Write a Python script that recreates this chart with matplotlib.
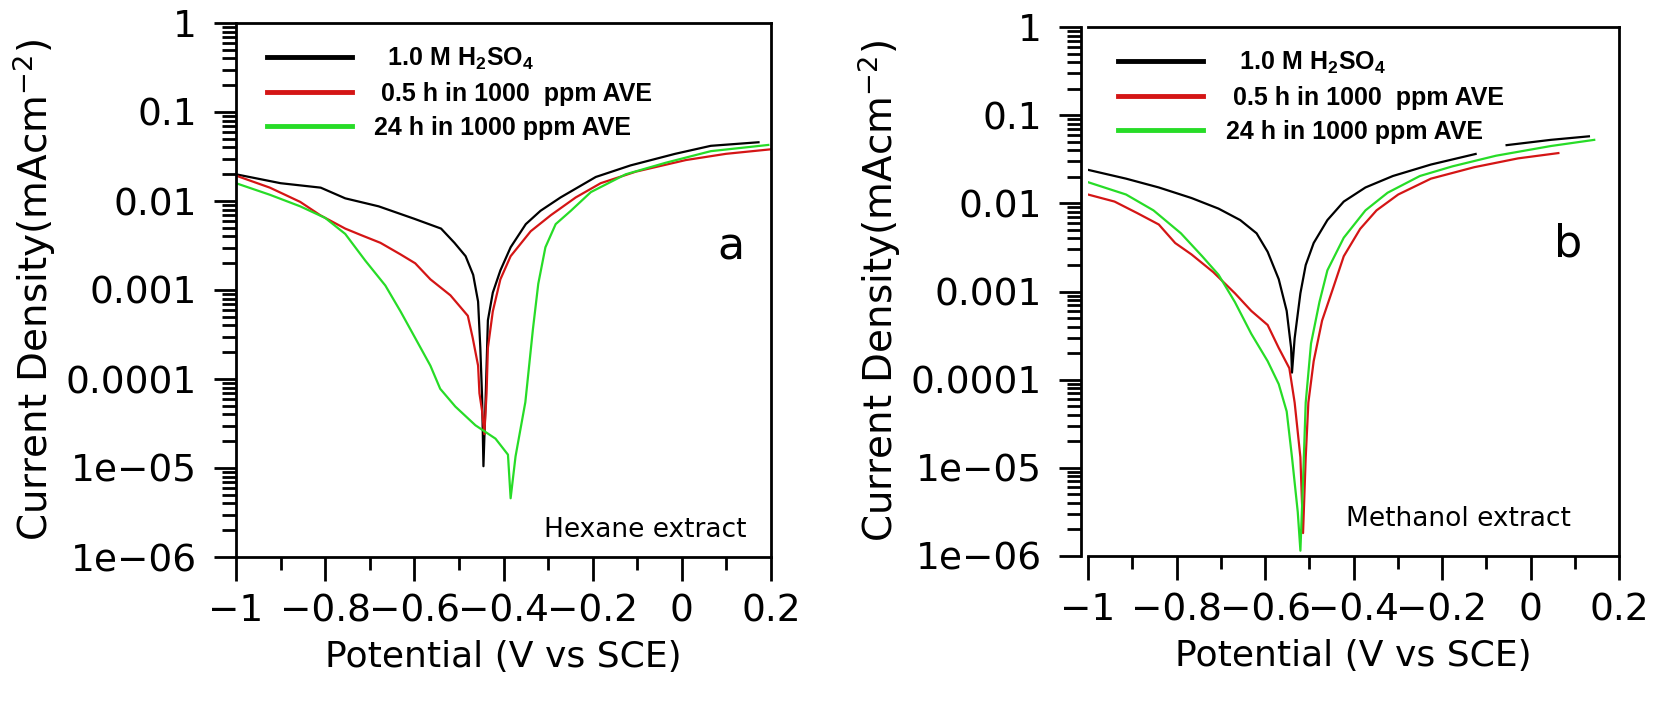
import numpy as np
import matplotlib
matplotlib.use("Agg")
import matplotlib.pyplot as plt
from matplotlib.ticker import FixedLocator, FixedFormatter, LogLocator, MultipleLocator

plt.rcParams['font.family'] = ['DejaVu Sans']
plt.rcParams['mathtext.fontset'] = 'custom'
plt.rcParams['mathtext.rm'] = 'Liberation Sans:bold'
plt.rcParams['mathtext.it'] = 'Liberation Sans:bold'
plt.rcParams['mathtext.bf'] = 'Liberation Sans:bold'

# ---- panel a: hexane extract (potential V vs SCE, log10 current density)
a_blank_v = [-1.0, -0.90, -0.81, -0.755, -0.68, -0.60, -0.54, -0.51, -0.485, -0.468,
             -0.457, -0.452, -0.448, -0.445, -0.44, -0.435, -0.424, -0.407, -0.384,
             -0.35, -0.317, -0.272, -0.193, -0.115, -0.015, 0.065, 0.172]
a_blank_log = [-1.70, -1.80, -1.85, -1.97, -2.06, -2.20, -2.31, -2.47, -2.62, -2.83,
               -3.13, -3.65, -4.21, -4.98, -4.21, -3.34, -3.03, -2.78, -2.52,
               -2.26, -2.11, -1.96, -1.73, -1.60, -1.47, -1.38, -1.34]

a_half_v = [-1.0, -0.924, -0.856, -0.811, -0.755, -0.721, -0.676, -0.631, -0.598, -0.564,
            -0.519, -0.480, -0.469, -0.457, -0.454, -0.448, -0.443, -0.438, -0.435,
            -0.424, -0.407, -0.384, -0.339, -0.294, -0.238, -0.182, -0.103, 0.009,
            0.099, 0.198]
a_half_log = [-1.715, -1.85, -2.01, -2.16, -2.31, -2.38, -2.47, -2.60, -2.70, -2.88,
              -3.06, -3.29, -3.54, -3.85, -4.16, -4.36, -4.62, -4.16, -3.65,
              -3.24, -2.88, -2.62, -2.34, -2.16, -1.96, -1.80, -1.67, -1.54,
              -1.47, -1.42]

a_day_v = [-1.0, -0.924, -0.856, -0.80, -0.755, -0.710, -0.665, -0.631, -0.598, -0.564,
           -0.542, -0.508, -0.463, -0.418, -0.39, -0.384, -0.373, -0.351, -0.334,
           -0.322, -0.306, -0.283, -0.249, -0.204, -0.126, -0.036, 0.065, 0.194]
a_day_log = [-1.80, -1.93, -2.06, -2.19, -2.37, -2.67, -2.95, -3.24, -3.54, -3.85,
             -4.11, -4.31, -4.52, -4.67, -4.85, -5.34, -4.87, -4.26, -3.44,
             -2.93, -2.52, -2.26, -2.11, -1.90, -1.70, -1.57, -1.44, -1.37]

# ---- panel b: methanol extract (nan = short break in the blank curve)
b_blank_v = [-1.0, -0.914, -0.84, -0.766, -0.705, -0.656, -0.619, -0.594, -0.569, -0.551,
             -0.541, -0.539, -0.533, -0.520, -0.508, -0.490, -0.459, -0.422, -0.373,
             -0.311, -0.225, -0.124, -0.09, -0.054, 0.046, 0.132]
b_blank_log = [-1.62, -1.72, -1.82, -1.94, -2.06, -2.19, -2.34, -2.55, -2.86, -3.22,
               -3.64, -3.92, -3.53, -3.02, -2.70, -2.45, -2.19, -1.98, -1.82,
               -1.69, -1.56, -1.44, np.nan, -1.34, -1.28, -1.24]

b_half_v = [-1.0, -0.94, -0.889, -0.84, -0.803, -0.766, -0.717, -0.668, -0.631, -0.594,
            -0.569, -0.545, -0.533, -0.520, -0.514, -0.508, -0.502, -0.490, -0.471,
            -0.446, -0.422, -0.385, -0.348, -0.299, -0.225, -0.127, -0.028, 0.063]
b_half_log = [-1.90, -1.98, -2.11, -2.24, -2.45, -2.58, -2.78, -3.02, -3.22, -3.38,
              -3.64, -3.87, -4.26, -4.88, -5.74, -4.88, -4.26, -3.79, -3.33,
              -2.96, -2.60, -2.29, -2.08, -1.90, -1.72, -1.59, -1.49, -1.43]

b_day_v = [-1.0, -0.914, -0.852, -0.79, -0.742, -0.705, -0.668, -0.631, -0.594, -0.569,
           -0.551, -0.539, -0.526, -0.520, -0.514, -0.508, -0.496, -0.477, -0.459,
           -0.422, -0.373, -0.323, -0.250, -0.176, -0.078, 0.046, 0.144]
b_day_log = [-1.76, -1.90, -2.08, -2.34, -2.60, -2.81, -3.12, -3.48, -3.79, -4.05,
             -4.36, -4.88, -5.50, -5.94, -5.14, -4.26, -3.59, -3.12, -2.76,
             -2.39, -2.08, -1.88, -1.69, -1.58, -1.46, -1.35, -1.28]

series_labels = [r'  1.0 M H$_2$SO$_4$', ' 0.5 h in 1000  ppm AVE', '24 h in 1000 ppm AVE']
series_colors = ['black', '#d41515', '#27dc27']

y_ticks = [1e-6, 1e-5, 1e-4, 1e-3, 1e-2, 1e-1, 1]
y_tick_labels = ['1e\u221206', '1e\u221205', '0.0001', '0.001', '0.01', '0.1', '1']
x_ticks = [-1, -0.8, -0.6, -0.4, -0.2, 0, 0.2]
x_tick_labels = ['\u22121', '\u22120.8', '\u22120.6', '\u22120.4', '\u22120.2', '0', '0.2']

panels = [
    dict(pos=[236/1654, 1-557/716, 535/1654, 534/716], offset=0,
         data=[(a_blank_v, a_blank_log), (a_half_v, a_half_log), (a_day_v, a_day_log)],
         letter='a', letter_xy=(0.925, 0.58), note='Hexane extract', note_xy=(0.955, 0.05)),
    dict(pos=[1088/1654, 1-556/716, 531/1654, 529/716], offset=5,
         data=[(b_blank_v, b_blank_log), (b_half_v, b_half_log), (b_day_v, b_day_log)],
         letter='b', letter_xy=(0.905, 0.59), note='Methanol extract', note_xy=(0.91, 0.07)),
]

fig = plt.figure(figsize=(16.54, 7.16), dpi=100)

for p in panels:
    ax = fig.add_axes(p['pos'])
    for (v, lg), lab, col in zip(p['data'], series_labels, series_colors):
        ax.plot(v, 10.0 ** np.array(lg), color=col, lw=1.6, label=lab)
    ax.set_yscale('log')
    ax.set_xlim(-1, 0.2)
    ax.set_ylim(1e-6, 1)

    ax.yaxis.set_major_locator(FixedLocator(y_ticks))
    ax.yaxis.set_major_formatter(FixedFormatter(y_tick_labels))
    ax.yaxis.set_minor_locator(LogLocator(base=10, subs=np.arange(2, 10)))
    ax.xaxis.set_major_locator(FixedLocator(x_ticks))
    ax.xaxis.set_major_formatter(FixedFormatter(x_tick_labels))
    ax.xaxis.set_minor_locator(MultipleLocator(0.1))

    ax.tick_params(which='both', direction='out', top=False, right=False, width=2)
    ax.tick_params(axis='y', which='major', length=16, pad=12, labelsize=27)
    ax.tick_params(axis='y', which='minor', length=10)
    ax.tick_params(axis='x', which='major', length=17, pad=9, labelsize=27)
    ax.tick_params(axis='x', which='minor', length=9)
    for s in ax.spines.values():
        s.set_linewidth(2)
    if p['offset']:
        ax.spines['left'].set_position(('outward', p['offset']))

    ax.set_xlabel('Potential (V vs SCE)', fontsize=26, labelpad=8)
    ax.set_ylabel(r'Current Density(mAcm$^{\mathregular{-2}}$)', fontsize=28, labelpad=6)
    ax.yaxis.label.set_math_fontfamily('dejavusans')

    leg = ax.legend(loc='upper left', bbox_to_anchor=(0.015, 1.0), frameon=False,
                    handlelength=3.4, handletextpad=0.9, labelspacing=0.4,
                    prop={'family': 'Liberation Sans', 'weight': 'bold', 'size': 18})
    for ln in leg.get_lines():
        ln.set_linewidth(3.5)

    ax.text(p['letter_xy'][0], p['letter_xy'][1], p['letter'], transform=ax.transAxes,
            fontsize=32, ha='center', va='center')
    ax.text(p['note_xy'][0], p['note_xy'][1], p['note'], transform=ax.transAxes,
            fontsize=19, ha='right', va='center')

fig.savefig('out.png', dpi=100)
